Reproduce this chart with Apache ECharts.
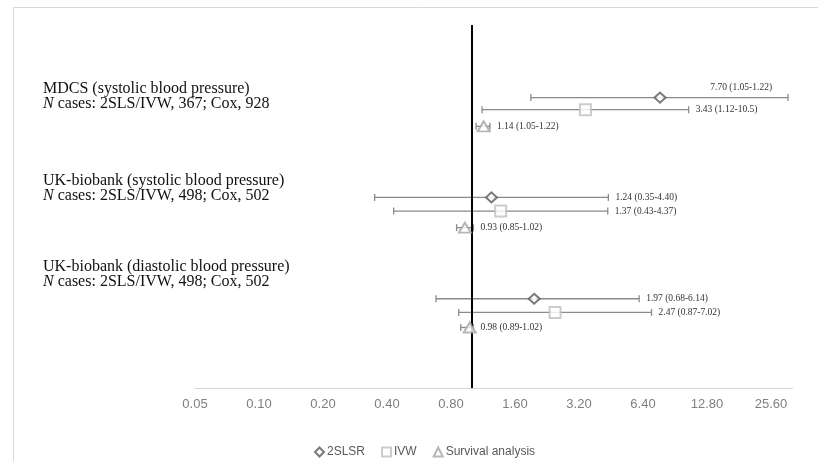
<!DOCTYPE html>
<html><head><meta charset="utf-8">
<script src="https://cdn.jsdelivr.net/npm/echarts@6/dist/echarts.min.js"></script>
<style>html,body{margin:0;padding:0;background:#fff}#c{width:818px;height:461px}</style>
</head><body><div id="c"></div>
<script>
// ---- data ----
const tickLabels = ['0.05','0.10','0.20','0.40','0.80','1.60','3.20','6.40','12.80','25.60'];
const axisMin = 0.05;
const axisMax = 32.5;

const groupTitles = ['MDCS (systolic blood pressure)', 'UK-biobank (systolic blood pressure)', 'UK-biobank (diastolic blood pressure)'];
const groupCases = ['2SLS/IVW, 367; Cox, 928', '2SLS/IVW, 498; Cox, 502', '2SLS/IVW, 498; Cox, 502'];
const groupLabelY = [9.64, 6.6, 3.75];

const slsEst = [7.70, 1.24, 1.97];
const slsLow = [1.90, 0.35, 0.68];
const slsHigh = [30.8, 4.40, 6.14];
const slsY = [9.6, 6.3, 2.95];
const slsLabels = ['7.70 (1.05-1.22)', '1.24 (0.35-4.40)', '1.97 (0.68-6.14)'];

const ivwEst = [3.43, 1.37, 2.47];
const ivwLow = [1.12, 0.43, 0.87];
const ivwHigh = [10.5, 4.37, 7.02];
const ivwY = [9.2, 5.85, 2.5];
const ivwLabels = ['3.43 (1.12-10.5)', '1.37 (0.43-4.37)', '2.47 (0.87-7.02)'];

const survEst = [1.14, 0.93, 0.98];
const survLow = [1.05, 0.85, 0.89];
const survHigh = [1.22, 1.02, 1.02];
const survY = [8.65, 5.3, 2.0];
const survLabels = ['1.14 (1.05-1.22)', '0.93 (0.85-1.02)', '0.98 (0.89-1.02)'];

const refValue = 1;

// ---- helpers ----
const LABEL_FONT = '9.5px "Liberation Serif"';
const measureCtx = document.createElement('canvas').getContext('2d');
function textWidth(t, font){ measureCtx.font = font; return measureCtx.measureText(t).width; }

function errRender(labels){
  return function(params, api){
    const y = api.value(2);
    const lo = api.coord([api.value(0), y]);
    const hi = api.coord([api.value(1), y]);
    const h = 3.5;
    const st = {stroke:'#8a8a8a', lineWidth:1.3};
    const txt = labels[params.dataIndex];
    const w = textWidth(txt, LABEL_FONT);
    const right = params.coordSys.x + params.coordSys.width;
    let tx = hi[0] + 7, ty = hi[1], align = 'left';
    if (tx + w > right) { tx = hi[0] - 16; ty = hi[1] - 10; align = 'right'; }
    return {type:'group', children:[
      {type:'line', shape:{x1:lo[0],y1:lo[1],x2:hi[0],y2:hi[1]}, style:st},
      {type:'line', shape:{x1:lo[0],y1:lo[1]-h,x2:lo[0],y2:lo[1]+h}, style:st},
      {type:'line', shape:{x1:hi[0],y1:hi[1]-h,x2:hi[0],y2:hi[1]+h}, style:st},
      {type:'text', x:tx, y:ty, style:{text:txt, font:LABEL_FONT, fill:'#333', align:align, verticalAlign:'middle'}}
    ]};
  };
}
function errData(lo, hi, ys){ return lo.map((v,i)=>[v, hi[i], ys[i]]); }
function ptData(est, ys){ return est.map((v,i)=>[v, ys[i]]); }

const chart = echarts.init(document.getElementById('c'), null, {renderer:'canvas'});
chart.setOption({
  animation:false,
  backgroundColor:'#fff',
  graphic:[{type:'rect', shape:{x:13.5,y:7.5,width:900,height:900}, style:{fill:null, stroke:'#d9d9d9', lineWidth:1}}],
  grid:{left:195, right:25, top:25, bottom:73, containLabel:false},
  legend:{
    data:['2SLSR','IVW','Survival analysis'],
    left:309, top:441, itemWidth:9, itemHeight:9, itemGap:16,
    textStyle:{fontFamily:'Liberation Sans', fontSize:12, color:'#595959', padding:[0,0,0,-2]}
  },
  xAxis:[
    {type:'log', logBase:2, min:axisMin, max:axisMax,
     axisLine:{show:true, lineStyle:{color:'#d9d9d9', width:1}},
     axisTick:{show:false}, axisLabel:{show:false}, splitLine:{show:false}},
    {type:'value', min:0, max:Math.log2(axisMax/axisMin), interval:1, position:'bottom',
     axisLine:{show:false}, axisTick:{show:false}, splitLine:{show:false},
     axisLabel:{margin:10, color:'#7f7f7f', fontSize:13, fontFamily:'Liberation Sans',
       formatter:function(v){ const r=Math.round(v); return Math.abs(v-r)<1e-6 && tickLabels[r]!==undefined ? tickLabels[r] : ''; }}}
  ],
  yAxis:{type:'value', min:0, max:12, show:false},
  series:[
    {type:'custom', name:'groupLabels', xAxisIndex:0, silent:true,
     data:groupLabelY.map((y,i)=>[axisMin, y, i]),
     encode:{x:0, y:1},
     renderItem:function(params, api){
       const p = api.coord([api.value(0), api.value(1)]);
       const i = params.dataIndex;
       const font = '16px "Liberation Serif"';
       return {type:'group', children:[
         {type:'text', x:43, y:p[1]-7.5, style:{text:groupTitles[i], font:font, fill:'#111', verticalAlign:'middle'}},
         {type:'text', x:43, y:p[1]+7.5, style:{text:'{i|N} cases: '+groupCases[i], font:font, fill:'#111', verticalAlign:'middle',
           rich:{i:{fontStyle:'italic', fontFamily:'Liberation Serif', fontSize:16, fill:'#111'}}}}
       ]};
     }},
    {type:'custom', name:'e1', xAxisIndex:0, silent:true, data:errData(slsLow, slsHigh, slsY), encode:{x:[0,1], y:2}, renderItem:errRender(slsLabels)},
    {type:'custom', name:'e2', xAxisIndex:0, silent:true, data:errData(ivwLow, ivwHigh, ivwY), encode:{x:[0,1], y:2}, renderItem:errRender(ivwLabels)},
    {type:'custom', name:'e3', xAxisIndex:0, silent:true, data:errData(survLow, survHigh, survY), encode:{x:[0,1], y:2}, renderItem:errRender(survLabels)},
    {type:'scatter', name:'2SLSR', xAxisIndex:0, z:5, data:ptData(slsEst, slsY),
     symbol:'diamond', symbolSize:[11,10],
     itemStyle:{color:'#fff', borderColor:'#595959', borderWidth:2},
     markLine:{silent:true, symbol:'none', label:{show:false}, data:[{xAxis:refValue}],
       lineStyle:{color:'#000', width:2, type:'solid'}}},
    {type:'scatter', name:'IVW', xAxisIndex:0, z:5, data:ptData(ivwEst, ivwY),
     symbol:'rect', symbolSize:[11,11],
     itemStyle:{color:'#fff', borderColor:'#bfbfbf', borderWidth:2}},
    {type:'scatter', name:'Survival analysis', xAxisIndex:0, z:5, data:ptData(survEst, survY),
     symbol:'triangle', symbolSize:[12,10],
     itemStyle:{color:'#fff', borderColor:'#a5a5a5', borderWidth:2}}
  ]
});
</script>
</body></html>
